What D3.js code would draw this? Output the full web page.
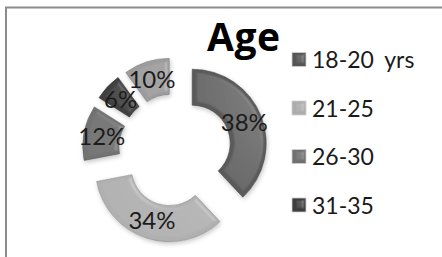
<!DOCTYPE html>
<html>
<head>
<meta charset="utf-8">
<script src="https://cdn.jsdelivr.net/npm/d3@7"></script>
<style>
  body { margin: 0; background: #fff; }
  svg { display: block; }
</style>
</head>
<body>
<div id="chart"></div>
<script>
// chart data
const categories = ["18-20 yrs", "21-25", "26-30", "31-35", "36-40"];
const values = [38, 34, 12, 6, 10];
const sliceColors = ["#5a5a5a", "#b0b0b0", "#727272", "#404040", "#9c9c9c"];
const legendColors = ["#555555", "#acacac", "#707070", "#3c3c3c"];
const legendShown = 4; // the last entry is cut off in the original

const w = 442;
const h = 257;
const cx = 175, cy = 150;
const rOut = 74, rIn = 38;
const explode = 18.5;

const svg = d3.select("#chart")
    .append("svg")
    .attr("width", w)
    .attr("height", h);

const defs = svg.append("defs");

// bevel-ish lighting, only at the edges
const bevel = defs.append("filter")
    .attr("id", "bevel")
    .attr("x", "-20%").attr("y", "-20%")
    .attr("width", "140%").attr("height", "140%");
bevel.append("feGaussianBlur")
    .attr("in", "SourceAlpha")
    .attr("stdDeviation", 2.2)
    .attr("result", "blur");
const spec = bevel.append("feSpecularLighting")
    .attr("in", "blur")
    .attr("surfaceScale", 3)
    .attr("specularConstant", 0.5)
    .attr("specularExponent", 20)
    .attr("lighting-color", "#ffffff")
    .attr("result", "spec");
spec.append("fePointLight")
    .attr("x", 120).attr("y", -60).attr("z", 160);
bevel.append("feComposite")
    .attr("in", "spec").attr("in2", "SourceAlpha")
    .attr("operator", "in").attr("result", "specOut");
bevel.append("feComposite")
    .attr("in", "SourceGraphic").attr("in2", "specOut")
    .attr("operator", "arithmetic")
    .attr("k1", 0).attr("k2", 1).attr("k3", 0.28).attr("k4", 0)
    .attr("result", "lit");

const shadow = defs.append("filter")
    .attr("id", "shadow")
    .attr("x", "-30%").attr("y", "-30%")
    .attr("width", "160%").attr("height", "160%");
shadow.append("feGaussianBlur")
    .attr("in", "SourceAlpha")
    .attr("stdDeviation", 2.5)
    .attr("result", "b");
shadow.append("feOffset")
    .attr("in", "b").attr("dx", 1).attr("dy", 2).attr("result", "o");
shadow.append("feComponentTransfer")
    .attr("in", "o").attr("result", "s")
    .append("feFuncA").attr("type", "linear").attr("slope", 0.25);

// chart frame (left + top edge visible)
svg.append("path")
    .attr("d", `M6,${h} L6,7.5 L${w},7.5`)
    .attr("fill", "none")
    .attr("stroke", "#8c8c8c")
    .attr("stroke-width", 2);

// title
svg.append("text")
    .text("Age")
    .attr("x", 207)
    .attr("y", 51)
    .attr("font-family", "'Open Sans', sans-serif")
    .attr("font-weight", "bold")
    .attr("font-size", 39)
    .attr("letter-spacing", "0.5")
    .attr("fill", "#000");

// doughnut
const pie = d3.pie().sort(null).value(d => d)(values);
const arc = d3.arc().innerRadius(rIn).outerRadius(rOut);
const labelArc = d3.arc().innerRadius((rIn + rOut) / 2).outerRadius((rIn + rOut) / 2);

const slices = svg.append("g")
    .attr("transform", `translate(${cx}, ${cy})`)
    .selectAll("g")
    .data(pie)
    .enter()
    .append("g")
    .attr("transform", d => {
        const a = (d.startAngle + d.endAngle) / 2;
        return `translate(${explode * Math.sin(a)}, ${-explode * Math.cos(a)})`;
    });

slices.append("path")
    .attr("d", arc)
    .attr("fill", "#000")
    .attr("filter", "url(#shadow)");

slices.append("path")
    .attr("d", arc)
    .attr("fill", (d, i) => sliceColors[i])
    .attr("stroke", (d, i) => d3.color(sliceColors[i]).darker(0.5))
    .attr("stroke-width", 0.6)
    .attr("filter", "url(#bevel)");

slices.append("text")
    .text(d => d.data + "%")
    .attr("x", d => labelArc.centroid(d)[0])
    .attr("y", d => labelArc.centroid(d)[1])
    .attr("dy", "0.36em")
    .attr("text-anchor", "middle")
    .attr("font-family", "Lato, sans-serif")
    .attr("font-size", 24)
    .attr("fill", "#1c1c1c");

// legend
const legend = svg.append("g").attr("id", "legend");
const items = legend.selectAll("g")
    .data(categories.slice(0, legendShown))
    .enter()
    .append("g")
    .attr("transform", (d, i) => `translate(292, ${60 + i * 48.5})`);

items.append("rect")
    .attr("x", 0)
    .attr("y", -7.5)
    .attr("width", 14)
    .attr("height", 14)
    .attr("fill", (d, i) => legendColors[i])
    .attr("stroke", "#d0d0d0")
    .attr("stroke-width", 0.8)
    .attr("filter", "url(#bevel)");

items.append("text")
    .text(d => d)
    .attr("x", 20)
    .attr("y", 0)
    .attr("dy", "0.36em")
    .attr("font-family", "Lato, sans-serif")
    .attr("font-size", 23)
    .attr("word-spacing", "5")
    .attr("fill", "#1a1a1a");
</script>
</body>
</html>
